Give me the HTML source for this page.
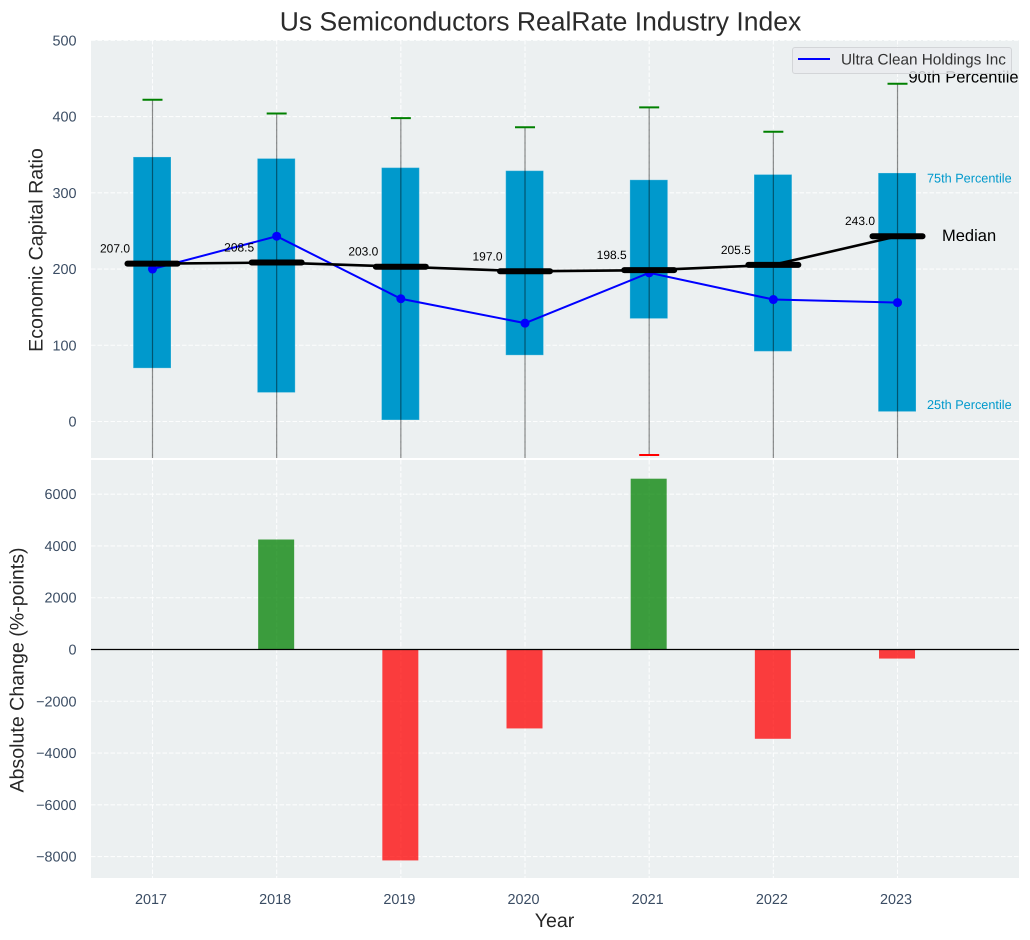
<!DOCTYPE html>
<html lang="en">
<head>
<meta charset="utf-8">
<title>Us Semiconductors RealRate Industry Index</title>
<style>
html,body{margin:0;padding:0;background:#fff;width:1030px;height:940px;overflow:hidden}
svg{display:block}
text{font-family:"Liberation Sans",Arial,sans-serif;text-rendering:geometricPrecision}
</style>
</head>
<body>
<svg id="chart" width="1030" height="940" viewBox="0 0 1030 940" xmlns="http://www.w3.org/2000/svg">
<defs>
<clipPath id="clip-top"><rect x="91" y="40" width="928" height="418"/></clipPath>
<clipPath id="clip-bottom"><rect x="91" y="460" width="928" height="418"/></clipPath>
</defs>
<rect x="91" y="40" width="928" height="418" fill="#ecf0f1"/>
<rect x="91" y="460" width="928" height="418" fill="#ecf0f1"/>
<g id="grid-layer"></g>
<g id="top-layer" clip-path="url(#clip-top)"></g>
<g id="bottom-layer" clip-path="url(#clip-bottom)"></g>
<g id="label-layer"></g>
<text x="540.5" y="30.5" text-anchor="middle" font-size="26.5" fill="#2b2b2b">Us Semiconductors RealRate Industry Index</text>
<text transform="translate(42.5,250) rotate(-90)" text-anchor="middle" font-size="19.6" fill="#262626">Economic Capital Ratio</text>
<text transform="translate(23.5,670) rotate(-90)" text-anchor="middle" font-size="19.6" fill="#262626">Absolute Change (%-points)</text>
<text x="554.5" y="927" text-anchor="middle" font-size="19.6" fill="#262626">Year</text>
<text x="908.5" y="82.5" font-size="16.5" fill="#000">90th Percentile</text>
<text x="927" y="182.5" font-size="12.7" fill="#0099cc">75th Percentile</text>
<text x="942" y="241" font-size="16.5" fill="#000">Median</text>
<text x="927" y="409" font-size="12.7" fill="#0099cc">25th Percentile</text>
<g>
<rect x="792.5" y="47.5" width="219" height="26" rx="2.5" fill="#e9eaee" fill-opacity="0.82" stroke="#d3d5d8" stroke-width="1"/>
<line x1="798" y1="59" x2="830" y2="59" stroke="#0000ff" stroke-width="2"/>
<text x="841" y="64.5" font-size="15.3" fill="#333">Ultra Clean Holdings Inc</text>
</g>
</svg>
<script>
var years = [2017, 2018, 2019, 2020, 2021, 2022, 2023];
var p25 = [70, 38, 2, 87, 135, 92, 13];
var p75 = [347, 345, 333, 329, 317, 324, 326];
var p90 = [422, 404, 398, 386, 412, 380, 443];
var p10 = [-90, -120, -130, -80, -44, -70, -110];
var medians = [207.0, 208.5, 203.0, 197.0, 198.5, 205.5, 243.0];
var company = [200, 243, 161, 129, 195, 160, 156];
var changes = [0, 4250, -8150, -3050, 6600, -3450, -350];
var topTicks = [0, 100, 200, 300, 400, 500];
var bottomTicks = [-8000, -6000, -4000, -2000, 0, 2000, 4000, 6000];

var NS = 'http://www.w3.org/2000/svg';
function make(parent, tag, attrs, txt) {
  var n = document.createElementNS(NS, tag);
  for (var k in attrs) n.setAttribute(k, attrs[k]);
  if (txt !== undefined) n.textContent = txt;
  parent.appendChild(n);
  return n;
}
function x(v) { return 152.5 + (v - 2017) * 124.17; }
function yTop(v) { return 421.5 - v * 0.7624; }
function yBottom(v) { return 649.5 - v * 0.02588; }
function fmtTick(v) { return v < 0 ? '\u2212' + Math.abs(v) : String(v); }

var grid = document.getElementById('grid-layer');
var topL = document.getElementById('top-layer');
var botL = document.getElementById('bottom-layer');
var labels = document.getElementById('label-layer');
var gridStyle = { stroke: '#fff', 'stroke-width': 1.1, 'stroke-dasharray': '4.5 2', 'stroke-opacity': 0.85 };
var tickColor = '#3a4c63';
var el;

function gridLine(a, b, c, d) {
  var attrs = { x1: a, y1: b, x2: c, y2: d };
  for (var k in gridStyle) attrs[k] = gridStyle[k];
  return make(grid, 'line', attrs);
}

topTicks.forEach(function (t) {
  el = gridLine(91, yTop(t), 1019, yTop(t));
  
  
  el = make(labels, 'text', { x: 76.5, y: yTop(t) + 5, 'text-anchor': 'end', 'font-size': 14.4, fill: tickColor }, fmtTick(t));
  
  
});
bottomTicks.forEach(function (t) {
  el = gridLine(91, yBottom(t), 1019, yBottom(t));
  
  
  el = make(labels, 'text', { x: 76.5, y: yBottom(t) + 5, 'text-anchor': 'end', 'font-size': 14.4, fill: tickColor }, fmtTick(t));
  
  
});
years.forEach(function (yr) {
  el = gridLine(x(yr), 40, x(yr), 458);
  
  
  el = gridLine(x(yr), 460, x(yr), 878);
  
  
  el = make(labels, 'text', { x: x(yr) - 1.5, y: 904, 'text-anchor': 'middle', 'font-size': 14.4, fill: tickColor }, String(yr));
  
  
});

years.forEach(function (yr, i) {
  el = make(topL, 'rect', { x: x(yr) - 19.3, y: yTop(p75[i]), width: 37.8, height: yTop(p25[i]) - yTop(p75[i]), fill: '#0099cc', stroke: '#fff', 'stroke-opacity': 0.25, 'stroke-width': 1 });
  
  
  el = make(topL, 'line', { x1: x(yr), y1: yTop(p90[i]), x2: x(yr), y2: yTop(p10[i]), stroke: '#000', 'stroke-opacity': 0.45, 'stroke-width': 1.2 });
  
  
  el = make(topL, 'line', { x1: x(yr) - 10, y1: yTop(p90[i]), x2: x(yr) + 10, y2: yTop(p90[i]), stroke: '#008000', 'stroke-width': 2 });
  
  
  el = make(topL, 'line', { x1: x(yr) - 10, y1: yTop(p10[i]), x2: x(yr) + 10, y2: yTop(p10[i]), stroke: '#ff0000', 'stroke-width': 2 });
  
  
});

el = make(topL, 'polyline', { points: years.map(function (yr, i) { return x(yr) + ',' + yTop(company[i]); }).join(' '), fill: 'none', stroke: '#0000ff', 'stroke-width': 2 });


years.forEach(function (yr, i) {
  el = make(topL, 'circle', { cx: x(yr), cy: yTop(company[i]), r: 4.5, fill: '#0000ff' });
  
  
});

el = make(topL, 'polyline', { points: years.map(function (yr, i) { return x(yr) + ',' + yTop(medians[i]); }).join(' '), fill: 'none', stroke: '#000', 'stroke-width': 2.6 });


years.forEach(function (yr, i) {
  el = make(topL, 'line', { x1: x(yr) - 25, y1: yTop(medians[i]), x2: x(yr) + 25, y2: yTop(medians[i]), stroke: '#000', 'stroke-width': 6, 'stroke-linecap': 'round' });
  
  
  el = make(topL, 'text', { x: x(yr) - 37.5, y: yTop(medians[i]) - 11, 'text-anchor': 'middle', 'font-size': 12, fill: '#000' }, medians[i].toFixed(1));
  
  
});

years.forEach(function (yr, i) {
  var v = changes[i];
  if (!v) return;
  var t = yBottom(Math.max(v, 0));
  var h = Math.abs(yBottom(v) - yBottom(0));
  el = make(botL, 'rect', { x: x(yr) - 18.5, y: t, width: 36, height: h, fill: v > 0 ? '#008000' : '#ff0000', 'fill-opacity': 0.75 });
  
  
});
el = make(botL, 'line', { x1: 91, y1: yBottom(0), x2: 1019, y2: yBottom(0), stroke: '#000', 'stroke-width': 1.2 });


</script>
</body>
</html>
